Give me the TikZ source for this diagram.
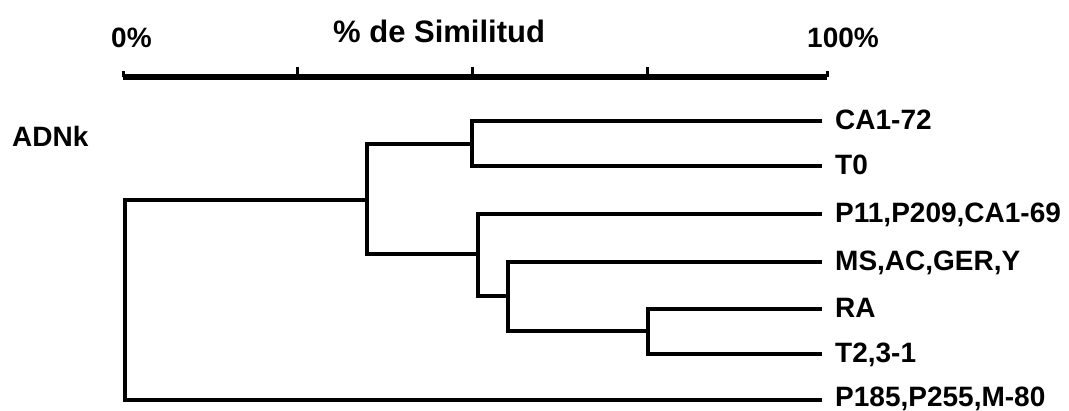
\documentclass[tikz,border=0pt]{standalone}
\usepackage{fontspec}
\setmainfont{Liberation Sans}
\begin{document}
\begin{tikzpicture}[x=1pt,y=-1pt,
  txt/.style={anchor=base west, inner sep=0pt, font=\bfseries\fontsize{28}{30}\selectfont},
  leaflbl/.style={txt, xshift=13pt, yshift=-9pt},
  branch/.style={line width=4pt, line join=miter},
  axisline/.style={line width=6pt},
  tickmark/.style={line width=3pt}]
\useasboundingbox (0,0) rectangle (1069,411);

% scale
\coordinate (ax0) at (123,77);
\coordinate (ax1) at (827,77);
\coordinate (t1) at (297,77);
\coordinate (t2) at (472,77);
\coordinate (t3) at (647,77);
\draw[axisline] (ax0) -- (ax1);
\foreach \t in {t1,t2,t3} \draw[tickmark] (\t) -- ++(0,-10);
\draw[tickmark] (ax0) -- ++(0,-6);
\draw[tickmark] (ax1) -- ++(0,-6);

\node[txt] (p0) at (111,48) {0\%};
\node[txt, font=\bfseries\fontsize{31}{33}\selectfont] (title) at (333,43) {\% de Similitud};
\node[txt] (p100) at (807,48) {100\%};
\node[txt] (adnk) at (12,147) {ADNk};

% leaf ends
\coordinate (eCA) at (822,121);
\coordinate (eTO) at (822,166);
\coordinate (eP11) at (822,214);
\coordinate (eMS) at (822,262);
\coordinate (eRA) at (822,309);
\coordinate (eT2) at (822,354);
\coordinate (eP185) at (822,400);

% labels
\node[leaflbl] (lCA) at (eCA) {CA1-72};
\node[leaflbl] (lTO) at (eTO) {T0};
\node[leaflbl] (lP11) at (eP11) {P11,P209,CA1-69};
\node[leaflbl] (lMS) at (eMS) {MS,AC,GER,Y};
\node[leaflbl] (lRA) at (eRA) {RA};
\node[leaflbl] (lT2) at (eT2) {T2,3-1};
\node[leaflbl, yshift=2pt] (lP185) at (eP185) {P185,P255,M-80};

% junctions
\coordinate (a) at (472,144);
\coordinate (d) at (648,331);
\coordinate (c) at (508,296);
\coordinate (b) at (478,254);
\coordinate (u) at (367,200);
\coordinate (root) at (125,300);

\draw[branch] (eCA) -| (a) |- (eTO);
\draw[branch] (eRA) -| (d) |- (eT2);
\draw[branch] (eMS) -| (c) |- (d);
\draw[branch] (eP11) -| (b) |- (c);
\draw[branch] (a) -| (u) |- (b);
\draw[branch] (u) -| (root) |- (eP185);
\end{tikzpicture}
\end{document}
